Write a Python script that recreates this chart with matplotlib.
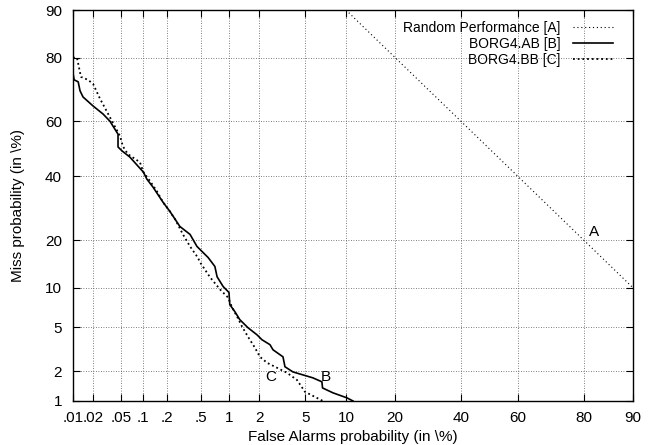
from statistics import NormalDist
import numpy as np
import matplotlib
matplotlib.use('Agg')
import matplotlib.pyplot as plt
from matplotlib.ticker import FixedLocator, FixedFormatter, NullLocator

# DET curve data (percent)
rand_fa = [10, 90]
rand_miss = [90, 10]

ab_fa = [0.01, 0.0104, 0.012, 0.0128, 0.0142, 0.02, 0.028, 0.035, 0.0455, 0.0455,
         0.052, 0.066, 0.1, 0.111, 0.133, 0.178, 0.216, 0.285, 0.375, 0.45,
         0.60, 0.71, 0.75, 0.87, 1.0, 1.02, 1.15, 1.29, 1.55, 1.89,
         2.11, 2.50, 2.66, 3.26, 3.39, 3.96, 4.80, 5.75, 6.73, 6.8,
         8.1, 10.15, 11.15]
ab_miss = [75.8, 73.8, 73.2, 70.4, 68.4, 65.4, 62.6, 60.1, 55.4, 50.7,
           49.2, 47.0, 41.5, 39.0, 36.2, 31.1, 28.2, 23.7, 21.5, 18.4,
           15.8, 13.9, 11.9, 10.2, 9.26, 7.54, 6.65, 5.75, 4.95, 4.32,
           3.91, 3.54, 3.19, 2.75, 2.22, 1.98, 1.85, 1.73, 1.58, 1.37,
           1.22, 1.08, 1.0]

bb_fa = [0.01, 0.0115, 0.0132, 0.0168, 0.02, 0.0253, 0.032, 0.0375, 0.0485, 0.053,
         0.062, 0.09, 0.1, 0.122, 0.149, 0.178, 0.216, 0.25, 0.31, 0.375,
         0.46, 0.49, 0.63, 0.81, 0.98, 1.08, 1.21, 1.36, 1.55, 1.81,
         2.02, 2.35, 2.89, 3.53, 4.28, 4.97, 6.85]
bb_miss = [80, 80, 74.7, 73.8, 72.6, 67.8, 63.3, 60.1, 54.7, 51.0,
           48.1, 45.1, 41.5, 38.3, 34.8, 31.1, 28.2, 25.8, 21.5, 18.4,
           15.8, 14.7, 11.8, 9.7, 8.5, 7.15, 6.09, 5.04, 4.16, 3.33,
           2.75, 2.42, 2.17, 1.94, 1.65, 1.25, 1.0]

xticks = [0.01, 0.02, 0.05, 0.1, 0.2, 0.5, 1, 2, 5, 10, 20, 40, 60, 80, 90]
xticklabels = ['.01', '.02', '.05', '.1', '.2', '.5', '1', '2', '5', '10',
               '20', '40', '60', '80', '90']
yticks = [1, 2, 5, 10, 20, 40, 60, 80, 90]
yticklabels = ['1', '2', '5', '10', '20', '40', '60', '80', '90']

# normal deviate scale
nd = NormalDist()

def _ppf1(p):
    if not np.isfinite(p):
        return np.nan
    return nd.inv_cdf(min(max(p, 1e-12), 1 - 1e-12))

_ppf = np.vectorize(_ppf1, otypes=[float])
_cdf = np.vectorize(lambda z: nd.cdf(z) if np.isfinite(z) else np.nan, otypes=[float])

def probit(p):
    return _ppf(np.asarray(p, dtype=float) / 100.0)

def unprobit(z):
    return _cdf(np.asarray(z, dtype=float)) * 100.0

plt.rcParams['font.family'] = ['Liberation Sans', 'DejaVu Sans']
plt.rcParams['font.size'] = 11

fig = plt.figure(figsize=(6.49, 4.45), dpi=100)
ax = fig.add_axes([73 / 649, 1 - 401 / 445, 560 / 649, 391 / 445])
ax.set_xscale('function', functions=(probit, unprobit))
ax.set_yscale('function', functions=(probit, unprobit))
ax.set_xlim(0.01, 90)
ax.set_ylim(1, 90)

ax.plot(rand_fa, rand_miss, color='black', lw=0.8, linestyle=(0, (1, 2.5)),
        label='Random Performance [A]')
ax.plot(ab_fa, ab_miss, color='black', lw=1.2, label='BORG4.AB [B]')
ax.plot(bb_fa, bb_miss, color='black', lw=1.3, linestyle=(0, (1, 1.6)),
        label='BORG4.BB [C]')

ax.annotate('A', (80, 20), xytext=(4, 1), textcoords='offset points', ha='left', va='bottom')
ax.annotate('B', (6, 1.5), xytext=(4, 0), textcoords='offset points', ha='left', va='bottom')
ax.annotate('C', (2, 1.5), xytext=(4, 0), textcoords='offset points', ha='left', va='bottom')

ax.xaxis.set_major_locator(FixedLocator(xticks))
ax.xaxis.set_major_formatter(FixedFormatter(xticklabels))
ax.yaxis.set_major_locator(FixedLocator(yticks))
ax.yaxis.set_major_formatter(FixedFormatter(yticklabels))
ax.xaxis.set_minor_locator(NullLocator())
ax.yaxis.set_minor_locator(NullLocator())
ax.tick_params(direction='in', length=5, width=0.8, top=True, right=True)
ax.tick_params(axis='x', pad=7)
ax.tick_params(axis='y', pad=8)

ax.grid(True, color='#555555', linestyle=(0, (1, 2)), lw=0.6)
for s in ax.spines.values():
    s.set_linewidth(1.0)

ax.set_xlabel('False Alarms probability (in \\%)', labelpad=4)
ax.set_ylabel('Miss probability (in \\%)', labelpad=14)

ax.legend(loc='upper right', bbox_to_anchor=(1 - 20 / 560, 1 - 11 / 391), frameon=False,
          markerfirst=False, handlelength=2.9, handletextpad=0.9, labelspacing=0.15,
          borderpad=0, borderaxespad=0, fontsize=10)

fig.savefig('out.png', dpi=100)
